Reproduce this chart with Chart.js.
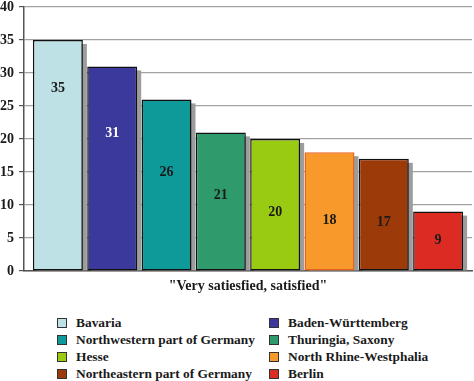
<!DOCTYPE html>
<html>
<head>
<meta charset="utf-8">
<script src="https://cdn.jsdelivr.net/npm/chart.js@4"></script>
<style>
  html,body{margin:0;padding:0;background:#fff;}
  #wrap{position:relative;width:474px;height:381px;overflow:hidden;}
  #cbox{position:absolute;left:0;top:0;width:474px;height:300px;}
  #legend{position:absolute;left:57px;top:314px;display:grid;grid-template-columns:212px 200px;grid-auto-rows:17px;
    font:bold 13.4px "Liberation Serif","DejaVu Serif",serif;color:#1a1a1a;}
  .li{display:flex;align-items:center;white-space:nowrap;}
  .sw{width:8px;height:8px;border:1px solid #333;margin-right:9px;flex:none;}
</style>
</head>
<body>
<div id="wrap">
  <div id="cbox"><canvas id="c"></canvas></div>
  <div id="legend"></div>
</div>
<script>
const categories = ['"Very satiesfied, satisfied"'];
const regions = ["Bavaria","Baden-Württemberg","Northwestern part of Germany","Thuringia, Saxony","Hesse","North Rhine-Westphalia","Northeastern part of Germany","Berlin"];
const values = [35, 31, 26, 21, 20, 18, 17, 9];
const labelAt = [27.7, 20.8, 15, 11.5, 8.9, 7.6, 7.3, 4.7];
const yTicks = [0, 5, 10, 15, 20, 25, 30, 35, 40];

const fills = ['#bde1e4','#3b3a9c','#0f9a9a','#2f9a6c','#9acb13','#f7992b','#9c3a0a','#dc2b23'];
const borders = ['#111','#111','#111','#111','#111','#e8641e','#111','#111'];
const labelColors = ['#1a1a1a','#ffffff','#1a1a1a','#1a1a1a','#1a1a1a','#1a1a1a','#1a1a1a','#1a1a1a'];
const serif = '"Liberation Serif","DejaVu Serif",serif';

const shadowPlugin = {
  id: 'shadow',
  beforeDatasetsDraw(chart) {
    const ctx = chart.ctx;
    ctx.save();
    ctx.fillStyle = '#9c9c9c';
    chart.data.datasets.forEach((d, i) => {
      chart.getDatasetMeta(i).data.forEach(el => {
        const p = el.getProps(['x','y','base','width'], true);
        ctx.fillRect(p.x - p.width/2 + 4, p.y + 4, p.width, p.base - p.y - 4);
      });
    });
    ctx.restore();
  }
};
const labelPlugin = {
  id: 'vlabels',
  afterDatasetsDraw(chart) {
    const ctx = chart.ctx;
    ctx.save();
    ctx.font = 'bold 14px ' + serif;
    ctx.textAlign = 'center';
    ctx.textBaseline = 'middle';
    chart.data.datasets.forEach((d, i) => {
      chart.getDatasetMeta(i).data.forEach((el, j) => {
        const p = el.getProps(['x'], true);
        ctx.fillStyle = labelColors[i];
        ctx.fillText(String(d.data[j]), p.x, chart.scales.y.getPixelForValue(labelAt[i]));
      });
    });
    ctx.restore();
  }
};

const datasets = regions.map((r, i) => ({
  label: r,
  data: [values[i]],
  backgroundColor: fills[i],
  borderColor: borders[i],
  borderWidth: 1.5,
  borderSkipped: false,
  categoryPercentage: 0.97,
  barPercentage: 0.92
}));

new Chart(document.getElementById('c'), {
  type: 'bar',
  data: { labels: categories, datasets },
  options: {
    responsive: true,
    maintainAspectRatio: false,
    animation: false,
    layout: { padding: { top: 0, right: 2, left: 0, bottom: 0 } },
    plugins: { legend: { display: false }, tooltip: { enabled: false } },
    scales: {
      x: {
        grid: { display: false, drawTicks: false },
        border: { display: true, color: '#555', width: 1.5 },
        ticks: { color: '#1a1a1a', font: { family: serif, size: 14, weight: 'bold' }, padding: 7 },
        afterFit(s) { s.height = 29; }
      },
      y: {
        min: 0, max: 40,
        afterBuildTicks(s) { s.ticks = yTicks.map(v => ({ value: v })); },
        grid: { color: '#a2a2a2', lineWidth: 1.2, tickColor: '#555', tickLength: 5 },
        border: { display: true, color: '#555', width: 1.5 },
        ticks: { color: '#1a1a1a', font: { family: serif, size: 14, weight: 'bold' }, padding: 5 },
        afterFit(s) { s.width = 24; s.paddingTop = 7; s.paddingBottom = 0; }
      }
    }
  },
  plugins: [shadowPlugin, labelPlugin]
});

const lg = document.getElementById('legend');
regions.forEach((r, i) => {
  const d = document.createElement('div');
  d.className = 'li';
  const s = document.createElement('span');
  s.className = 'sw';
  s.style.background = fills[i];
  const t = document.createElement('span');
  t.textContent = r;
  d.appendChild(s); d.appendChild(t);
  lg.appendChild(d);
});
</script>
</body>
</html>
